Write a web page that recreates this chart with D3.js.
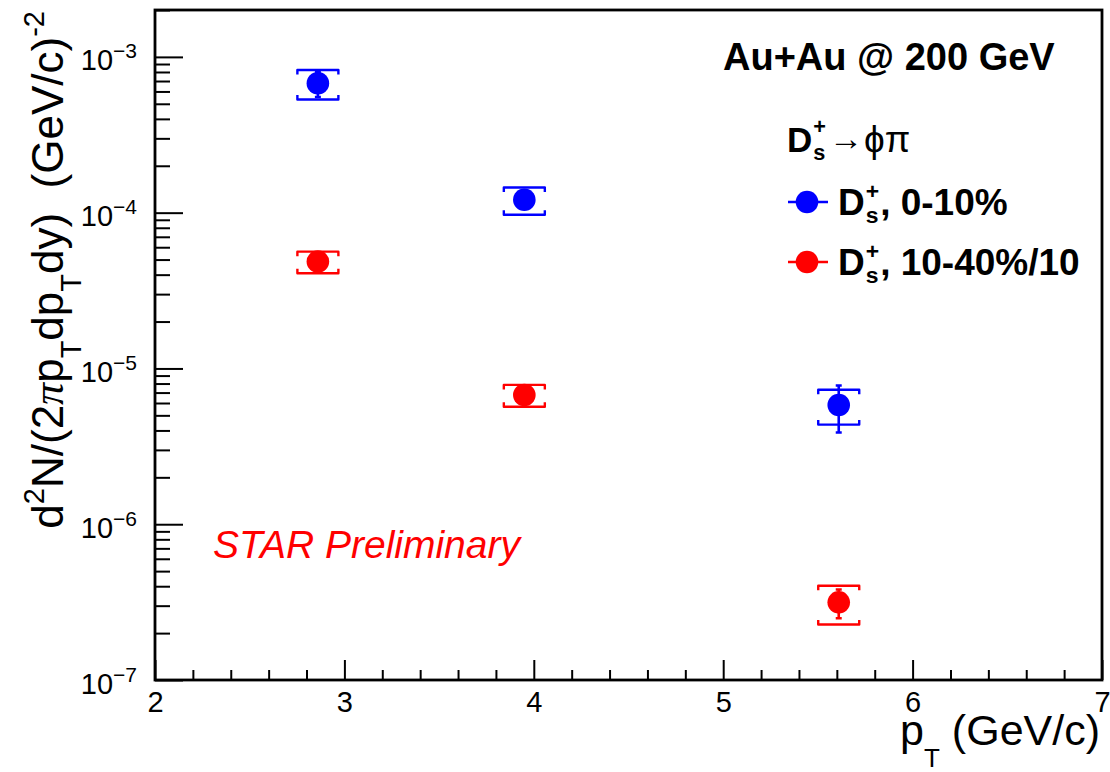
<!DOCTYPE html>
<html>
<head>
<meta charset="utf-8">
<script src="https://cdn.jsdelivr.net/npm/d3@7"></script>
<style>
  html, body { margin: 0; padding: 0; background: #fff; }
  svg { display: block; }
  text { font-family: "Liberation Sans", Arial, Helvetica, sans-serif; white-space: pre; }
</style>
</head>
<body>
<svg id="chart" width="1110" height="772"></svg>
<script>
// ---- data ----
const ptBins      = [2.86, 3.95, 5.61];              // GeV/c
const central010  = [6.78e-4, 1.21e-4, 5.83e-6];     // D_s, 0-10%
const stat010     = [1.25e-4, 0.15e-4, 1.95e-6];
const sys010      = [1.45e-4, 0.24e-4, 1.47e-6];
const central1040 = [4.85e-5, 6.76e-6, 3.15e-7];     // D_s, 10-40% / 10
const stat1040    = [0.40e-5, 0.60e-6, 0.66e-7];
const sys1040     = [0.77e-5, 1.08e-6, 0.88e-7];
const xTicks      = [2, 3, 4, 5, 6, 7];
const xMinorTicks = [2.2, 2.4, 2.6, 2.8, 3.2, 3.4, 3.6, 3.8, 4.2, 4.4, 4.6, 4.8, 5.2, 5.4, 5.6, 5.8, 6.2, 6.4, 6.6, 6.8];
const yTickExps   = [-7, -6, -5, -4, -3];
const seriesNames = ["0-10%", "10-40%/10"];
const seriesColors = ["#0000ff", "#ff0000"];

// ---- layout ----
const svg = d3.select("#chart");
const L = 155, R = 1102, T = 10, B = 680;
const x = d3.scaleLinear().domain([2, 7]).range([L, R]);
const y = d3.scaleLog().domain([1e-7, 2e-3]).range([B, T]);

const yMajor = yTickExps.map(e => Math.pow(10, e));
const yMinor = [];
yTickExps.forEach(e => { for (let k = 2; k <= 9; k++) { const v = k * Math.pow(10, e); if (v <= 2e-3) yMinor.push(v); } });

// x axis
const gx = svg.append("g").attr("transform", `translate(0,${B})`);
gx.call(d3.axisBottom(x).tickValues(xTicks).tickSize(-20).tickPadding(11).tickFormat(d3.format("d")));
gx.selectAll("text").attr("font-size", 29).attr("fill", "#000").attr("font-family", "Liberation Sans, Arial, sans-serif");
const gxm = svg.append("g").attr("transform", `translate(0,${B})`);
gxm.call(d3.axisBottom(x).tickValues(xMinorTicks).tickSize(-10).tickFormat(""));
[gx, gxm].forEach(g => { g.select(".domain").remove(); g.selectAll("line").attr("stroke", "#000").attr("stroke-width", 2); });

// y axis
const gy = svg.append("g").attr("transform", `translate(${L},0)`);
gy.call(d3.axisLeft(y).tickValues(yMajor).tickSize(-28).tickPadding(18).tickFormat(""));
const gym = svg.append("g").attr("transform", `translate(${L},0)`);
gym.call(d3.axisLeft(y).tickValues(yMinor).tickSize(-15).tickFormat(""));
[gy, gym].forEach(g => { g.select(".domain").remove(); g.selectAll("line").attr("stroke", "#000").attr("stroke-width", 2); });
gy.selectAll(".tick text").each(function(d, i) {
  const t = d3.select(this);
  t.text(null).attr("dy", null).attr("y", 13).attr("font-size", 29).attr("fill", "#000");
  t.append("tspan").text("10");
  t.append("tspan").attr("font-size", 21).attr("dy", -12).text("\u2212" + String(-yTickExps[i]));
});

// frame
svg.append("rect").attr("x", L).attr("y", T).attr("width", R - L).attr("height", B - T)
  .attr("fill", "none").attr("stroke", "#000").attr("stroke-width", 2.8);

// ---- data points ----
const halfBox = 20.5, boxTick = 4.5, markerR = 11.3;
function drawSeries(vals, stat, sys, color) {
  const pts = ptBins.map((p, i) => ({ p, v: vals[i], s: stat[i], sy: sys[i] }));
  const g = svg.append("g");
  g.selectAll("path.sys").data(pts).enter().append("path")
    .attr("fill", "none").attr("stroke", color).attr("stroke-width", 2.4).attr("stroke-linejoin", "round")
    .attr("d", d => {
      const cx = x(d.p), yt = y(d.v + d.sy), yb = y(d.v - d.sy);
      return `M${cx - halfBox},${yt + boxTick}V${yt}H${cx + halfBox}V${yt + boxTick}` +
             `M${cx - halfBox},${yb - boxTick}V${yb}H${cx + halfBox}V${yb - boxTick}`;
    });
  g.selectAll("path.stat").data(pts).enter().append("path")
    .attr("fill", "none").attr("stroke", color).attr("stroke-width", 2.6)
    .attr("d", d => {
      const cx = x(d.p), yt = y(d.v + d.s), yb = y(d.v - d.s);
      return `M${cx},${yt}V${yb}M${cx - 3},${yt}H${cx + 3}M${cx - 3},${yb}H${cx + 3}`;
    });
  g.selectAll("circle").data(pts).enter().append("circle")
    .attr("cx", d => x(d.p)).attr("cy", d => y(d.v)).attr("r", markerR).attr("fill", color);
}
drawSeries(central010, stat010, sys010, seriesColors[0]);
drawSeries(central1040, stat1040, sys1040, seriesColors[1]);

// ---- texts ----
const serif = "Liberation Serif, Times New Roman, serif";

// y title
const yt = svg.append("text").attr("transform", `translate(63,${T + 1}) rotate(-90)`)
  .attr("text-anchor", "end").attr("font-size", 44).attr("fill", "#000");
yt.append("tspan").text("d");
yt.append("tspan").attr("font-size", 29).attr("dy", -19).text("2");
yt.append("tspan").attr("dy", 19).text("N/(2");
yt.append("tspan").attr("font-family", serif).attr("font-style", "italic").text("\u03c0");
yt.append("tspan").text("p");
yt.append("tspan").attr("font-size", 29).attr("dy", 18).text("T");
yt.append("tspan").attr("dy", -18).text("dp");
yt.append("tspan").attr("font-size", 29).attr("dy", 18).text("T");
yt.append("tspan").attr("dy", -18).text("dy)  (GeV/c)");
yt.append("tspan").attr("font-size", 29).attr("dy", -19).text("-2");

// x title
const xt = svg.append("text").attr("x", 1100).attr("y", 745).attr("text-anchor", "end")
  .attr("font-size", 43).attr("fill", "#000");
xt.append("tspan").text("p");
xt.append("tspan").attr("font-size", 26).attr("dy", 22).text("T");
xt.append("tspan").attr("dy", -22).text(" (GeV/c)");

// Au+Au label
svg.append("text").attr("x", 723).attr("y", 70).attr("font-size", 38).attr("font-weight", "bold")
  .attr("fill", "#000").text("Au+Au @ 200 GeV");

// STAR Preliminary
svg.append("text").attr("x", 213).attr("y", 558).attr("font-size", 39).attr("font-style", "italic")
  .attr("fill", "#ff0000").text("STAR Preliminary");

// stacked super/subscript helper
function stacked(xp, yp, size, base, sup, sub, supUp, subDown) {
  const t = svg.append("text").attr("x", xp).attr("y", yp).attr("font-size", size)
    .attr("font-weight", "bold").attr("fill", "#000").text(base);
  const w = t.node().getComputedTextLength();
  const ss = size * 0.62;
  const a = svg.append("text").attr("x", xp + w + 1).attr("y", yp - supUp).attr("font-size", ss)
    .attr("font-weight", "bold").attr("fill", "#000").text(sup);
  const b = svg.append("text").attr("x", xp + w + 1).attr("y", yp + subDown).attr("font-size", ss)
    .attr("font-weight", "bold").attr("fill", "#000").text(sub);
  return xp + w + 1 + Math.max(a.node().getComputedTextLength(), b.node().getComputedTextLength());
}

// legend header
let hx = stacked(787, 152, 35, "D", "+", "s", 18, 8);
svg.append("text").attr("x", hx + 3).attr("y", 150).attr("font-size", 34).attr("font-family", serif)
  .attr("fill", "#000").attr("textLength", 34).attr("lengthAdjust", "spacingAndGlyphs").text("\u2192");
svg.append("text").attr("x", hx + 38).attr("y", 152).attr("font-size", 37).attr("font-family", serif)
  .attr("fill", "#000").text("\u03d5\u03c0");

// legend entries
const legY = [202, 262];
seriesNames.forEach((name, i) => {
  const cy = legY[i];
  svg.append("line").attr("x1", 788).attr("x2", 828).attr("y1", cy).attr("y2", cy)
    .attr("stroke", seriesColors[i]).attr("stroke-width", 2.5);
  svg.append("circle").attr("cx", 807).attr("cy", cy).attr("r", markerR).attr("fill", seriesColors[i]);
  const ex = stacked(838, cy + 13, 37, "D", "+", "s", 16, 8);
  svg.append("text").attr("x", ex + 1).attr("y", cy + 13).attr("font-size", 37).attr("font-weight", "bold")
    .attr("fill", "#000").text(", " + name);
});
</script>
</body>
</html>
